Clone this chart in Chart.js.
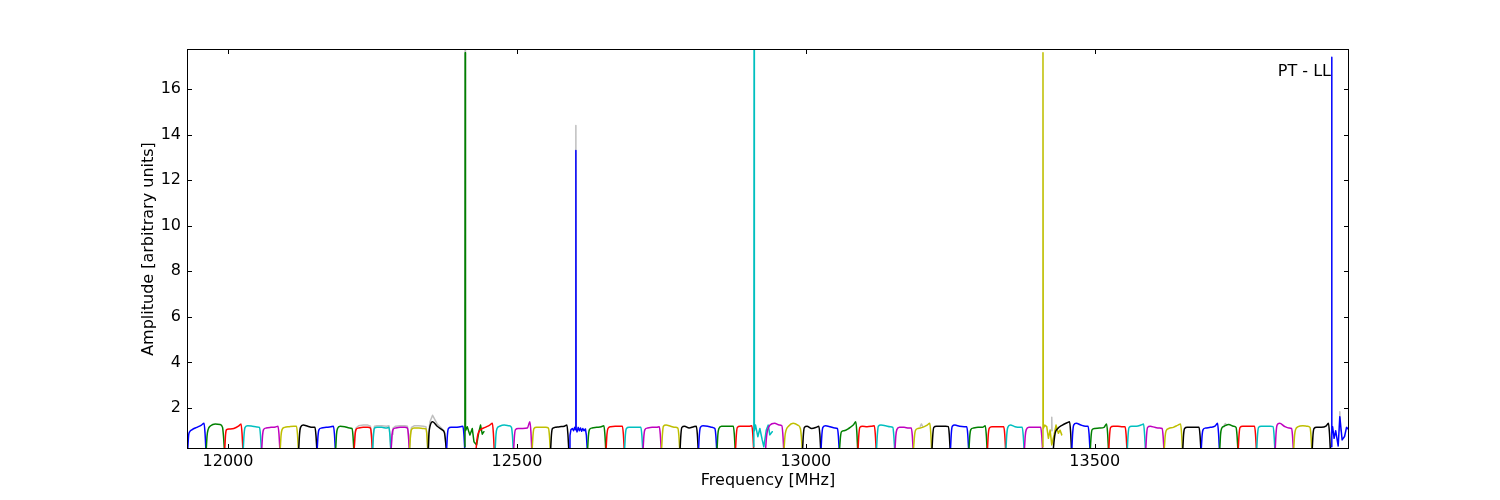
<!DOCTYPE html>
<html>
<head>
<meta charset="utf-8">
<script src="https://cdn.jsdelivr.net/npm/chart.js@4"></script>
<style>
  html, body { margin: 0; padding: 0; background: #fff; }
  #wrap { width: 1500px; height: 500px; }
</style>
</head>
<body>
<div id="wrap"><canvas id="chart" width="1500" height="500"></canvas></div>
<script>
// subband start frequencies [MHz], one line per subband
const subbandStart = [
  11930, 11962, 11994, 12026, 12058, 12090, 12122, 12154, 12186, 12218, 12250, 12282, 12314, 12346, 12378,
  12410, 12429,
  12462, 12494, 12526, 12558, 12590, 12622, 12654, 12686, 12718, 12750, 12782, 12814, 12846, 12878,
  12910, 12930,
  12962, 12994, 13026, 13058, 13090, 13122, 13154, 13186, 13218, 13250, 13282, 13314, 13346, 13378,
  13410, 13428,
  13460, 13492, 13524, 13556, 13588, 13620, 13652, 13684, 13716, 13748, 13780, 13812, 13844, 13876,
  13908
];

// matplotlib classic colour cycle b g r c m y k
const cycleColors = ['#0000ff', '#008000', '#ff0000', '#00bfbf', '#bf00bf', '#bfbf00', '#000000'];

// channel offsets inside a clean subband [MHz]
const channelOffset = [0.4, 1.8, 3.5, 8, 16, 24, 28.5, 30.2, 31.6];

// channel offsets for the subbands hit by RFI
const rfiOffset = {
  15: [0, 0.4, 0.9, 4, 8.6, 12.7, 15.6, 20.2, 24.2, 27, 30, 32.9],
  21: [0.4, 1.8, 3.5, 6, 8, 10, 11.6, 12, 12.4, 14, 16, 18, 20, 22, 24, 26, 28.5, 30.2, 31.6],
  31: [0, 0.4, 0.9, 2.9, 6.9, 10.4, 14.5, 17.3, 21.5, 24.9, 27.7, 31.8],
  47: [0, 0.4, 0.9, 3.5, 6.9, 9.8, 12.7, 15.6, 19.6, 23, 27, 29.9, 32.9],
  63: [1.5, 2, 2.5, 3.6, 6.2, 9, 13.3, 16.1, 20.1, 24.3, 27.7, 31.8]
};

// amplitudes per subband
const subbandAmp = [
  [0.22, 0.8, 0.95, 1.05, 1.15, 1.25, 1.33, 0.9, 0.22],
  [0.22, 0.8, 1.05, 1.22, 1.3, 1.28, 1.15, 0.75, 0.22],
  [0.22, 0.85, 1.05, 1.08, 1.1, 1.2, 1.3, 0.9, 0.22],
  [0.22, 0.85, 1.15, 1.22, 1.2, 1.17, 1.15, 0.8, 0.22],
  [0.22, 0.8, 1.05, 1.12, 1.15, 1.17, 1.2, 0.85, 0.22],
  [0.22, 0.8, 1.05, 1.15, 1.18, 1.2, 1.2, 0.85, 0.22],
  [0.22, 0.85, 1.15, 1.25, 1.2, 1.15, 1.15, 0.8, 0.22],
  [0.22, 0.8, 1.05, 1.12, 1.15, 1.18, 1.2, 0.85, 0.22],
  [0.22, 0.85, 1.1, 1.2, 1.18, 1.12, 1.1, 0.8, 0.22],
  [0.22, 0.8, 1.05, 1.12, 1.15, 1.15, 1.12, 0.8, 0.22],
  [0.22, 0.85, 1.12, 1.15, 1.15, 1.12, 1.15, 0.8, 0.22],
  [0.22, 0.8, 1.05, 1.12, 1.15, 1.15, 1.12, 0.8, 0.22],
  [0.22, 0.8, 1.05, 1.12, 1.12, 1.1, 1.08, 0.8, 0.22],
  [0.22, 0.9, 1.2, 1.4, 1.2, 1.05, 0.92, 0.6, 0.22],
  [0.22, 0.85, 1.1, 1.15, 1.15, 1.18, 1.2, 0.85, 0.22],
  [0.3, 17.6, 1.0, 1.18, 0.81, 1.1, 0.52, 0.38, 0.96, 1.25, 0.85, 0.96],
  [0.22, 0.6, 0.85, 1.05, 1.15, 1.25, 1.33, 0.9, 0.22],
  [0.22, 0.85, 1.1, 1.2, 1.25, 1.22, 1.15, 0.8, 0.22],
  [0.22, 0.8, 1.05, 1.1, 1.1, 1.12, 1.4, 0.95, 0.22],
  [0.22, 0.8, 1.1, 1.15, 1.15, 1.15, 1.12, 0.8, 0.22],
  [0.22, 0.85, 1.1, 1.15, 1.18, 1.2, 1.25, 0.85, 0.22],
  [0.22, 0.8, 1.05, 1.1, 1.0, 1.15, 1.05, 13.3, 1.1, 0.95, 1.15, 1.0, 1.12, 0.98, 1.1, 1.0, 1.08, 0.8, 0.22],
  [0.22, 0.8, 1.05, 1.12, 1.15, 1.18, 1.22, 0.85, 0.22],
  [0.22, 0.85, 1.1, 1.18, 1.2, 1.2, 1.2, 0.85, 0.22],
  [0.22, 0.85, 1.1, 1.15, 1.15, 1.15, 1.15, 0.8, 0.22],
  [0.22, 0.8, 1.05, 1.12, 1.15, 1.15, 1.18, 0.8, 0.22],
  [0.22, 0.85, 1.2, 1.25, 1.2, 1.15, 1.12, 0.8, 0.22],
  [0.22, 0.85, 1.15, 1.2, 1.12, 1.18, 1.2, 0.85, 0.22],
  [0.22, 0.85, 1.15, 1.22, 1.2, 1.15, 1.1, 0.8, 0.22],
  [0.22, 0.85, 1.1, 1.2, 1.2, 1.2, 1.2, 0.85, 0.22],
  [0.22, 0.85, 1.15, 1.2, 1.2, 1.2, 1.22, 0.85, 0.22],
  [0.3, 17.76, 1.0, 1.25, 0.74, 1.1, 0.6, 0.3, 1.03, 1.25, 0.82, 0.96],
  [0.22, 0.7, 1.0, 1.25, 1.33, 1.25, 1.22, 0.85, 0.22],
  [0.22, 0.75, 1.0, 1.2, 1.33, 1.25, 1.1, 0.75, 0.22],
  [0.22, 0.85, 1.15, 1.2, 1.1, 1.15, 1.2, 0.85, 0.22],
  [0.22, 0.85, 1.15, 1.22, 1.18, 1.12, 1.1, 0.8, 0.22],
  [0.22, 0.7, 0.95, 1.0, 1.1, 1.25, 1.4, 0.95, 0.22],
  [0.22, 0.85, 1.15, 1.2, 1.18, 1.2, 1.22, 0.85, 0.22],
  [0.22, 0.85, 1.2, 1.25, 1.22, 1.18, 1.15, 0.8, 0.22],
  [0.22, 0.8, 1.05, 1.15, 1.15, 1.12, 1.12, 0.8, 0.22],
  [0.22, 0.7, 1.0, 1.1, 1.15, 1.25, 1.33, 0.9, 0.22],
  [0.22, 0.85, 1.15, 1.2, 1.2, 1.2, 1.18, 0.85, 0.22],
  [0.22, 0.9, 1.2, 1.25, 1.2, 1.18, 1.18, 0.85, 0.22],
  [0.22, 0.8, 1.05, 1.12, 1.15, 1.15, 1.22, 0.85, 0.22],
  [0.22, 0.85, 1.12, 1.18, 1.18, 1.18, 1.18, 0.85, 0.22],
  [0.22, 0.85, 1.15, 1.25, 1.18, 1.15, 1.15, 0.8, 0.22],
  [0.22, 0.8, 1.05, 1.15, 1.15, 1.15, 1.15, 0.8, 0.22],
  [0.3, 17.6, 1.1, 1.25, 1.18, 0.67, 1.03, 0.38, 0.82, 1.25, 0.89, 1.03, 0.82],
  [0.22, 0.6, 0.9, 1.1, 1.25, 1.35, 1.4, 0.95, 0.22],
  [0.22, 0.9, 1.25, 1.33, 1.25, 1.2, 1.2, 0.85, 0.22],
  [0.22, 0.8, 1.05, 1.1, 1.12, 1.15, 1.3, 0.9, 0.22],
  [0.22, 0.85, 1.15, 1.2, 1.2, 1.18, 1.18, 0.85, 0.22],
  [0.22, 0.85, 1.15, 1.2, 1.2, 1.25, 1.3, 0.85, 0.22],
  [0.22, 0.85, 1.15, 1.2, 1.15, 1.12, 1.1, 0.8, 0.22],
  [0.22, 0.75, 1.0, 1.1, 1.15, 1.25, 1.3, 0.9, 0.22],
  [0.22, 0.85, 1.1, 1.15, 1.15, 1.15, 1.15, 0.8, 0.22],
  [0.22, 0.8, 1.05, 1.12, 1.15, 1.2, 1.33, 0.9, 0.22],
  [0.22, 0.85, 1.1, 1.2, 1.28, 1.2, 1.15, 0.8, 0.22],
  [0.22, 0.85, 1.15, 1.2, 1.2, 1.2, 1.2, 0.85, 0.22],
  [0.22, 0.85, 1.15, 1.2, 1.2, 1.2, 1.18, 0.85, 0.22],
  [0.22, 0.9, 1.25, 1.33, 1.2, 1.12, 1.1, 0.8, 0.22],
  [0.22, 0.8, 1.05, 1.18, 1.22, 1.2, 1.15, 0.8, 0.22],
  [0.22, 0.85, 1.1, 1.15, 1.15, 1.2, 1.33, 0.9, 0.22],
  [0.3, 17.4, 1.0, 1.18, 0.67, 1.0, 0.33, 1.62, 0.6, 0.75, 1.15, 1.05]
];

// reference (grey) bandpass where it shows above the coloured one
const grayBandAmp = {
  9:  [0.22, 0.85, 1.12, 1.22, 1.25, 1.25, 1.2, 0.85, 0.22],
  10: [0.22, 0.9, 1.2, 1.22, 1.22, 1.2, 1.22, 0.85, 0.22],
  11: [0.22, 0.85, 1.12, 1.2, 1.22, 1.22, 1.2, 0.85, 0.22],
  12: [0.22, 0.85, 1.15, 1.22, 1.22, 1.2, 1.18, 0.85, 0.22],
  13: [0.22, 1.0, 1.4, 1.68, 1.3, 1.1, 0.95, 0.62, 0.22]
};
const grayPeakFreq = [12410, 12410.4, 12410.9, null, 12601.6, 12602, 12602.4, null, 13198, 13200, 13202, null,
  13425, 13425.6, 13426.2, null, 13724, 13726, 13728, null, 13923.5, 13924.1, 13924.7];
const grayPeakAmp = [0.3, 17.76, 1.0, null, 1.05, 14.4, 1.1, null, 1.2, 1.3, 1.2, null,
  1.0, 1.59, 1.0, null, 1.25, 1.32, 1.25, null, 1.2, 1.84, 1.0];

const xTickValues = [12000, 12500, 13000, 13500];
const yTickValues = [2, 4, 6, 8, 10, 12, 14, 16];
const cornerLabel = 'PT - LL';

const font = { family: '"DejaVu Sans"', size: 16 };

// datasets: grey reference first (drawn underneath), then one line per subband
const datasets = [];
Object.keys(grayBandAmp).forEach((k) => {
  const start = subbandStart[k];
  datasets.push({
    data: grayBandAmp[k].map((a, j) => ({ x: start + channelOffset[j], y: a })),
    borderColor: '#bfbfbf',
    borderWidth: 1.5,
    order: 1,
  });
});
datasets.push({
  data: grayPeakFreq.map((f, j) => ({ x: f, y: grayPeakAmp[j] })),
  borderColor: '#bfbfbf',
  borderWidth: 1.5,
  spanGaps: false,
  cubicInterpolationMode: 'default',
  order: 1,
});
subbandStart.forEach((start, i) => {
  const rfi = rfiOffset[i];
  const offs = rfi || channelOffset;
  datasets.push({
    data: subbandAmp[i].map((a, j) => ({ x: start + offs[j], y: a })),
    borderColor: cycleColors[i % 7],
    borderWidth: 1.5,
    cubicInterpolationMode: rfi ? 'default' : 'monotone',
    order: -i,
  });
});

// frame, inward ticks and corner label, matplotlib style
const framePlugin = {
  id: 'frame',
  afterDraw(chart) {
    const { ctx, chartArea: a, scales: { x, y } } = chart;
    ctx.save();
    ctx.strokeStyle = '#000';
    ctx.lineWidth = 1;
    ctx.strokeRect(a.left + 0.5, a.top + 0.5, a.right - a.left - 1, a.bottom - a.top - 1);
    ctx.beginPath();
    x.ticks.forEach((t) => {
      const px = Math.round(x.getPixelForValue(t.value)) + 0.5;
      ctx.moveTo(px, a.bottom); ctx.lineTo(px, a.bottom - 5);
      ctx.moveTo(px, a.top); ctx.lineTo(px, a.top + 5);
    });
    y.ticks.forEach((t) => {
      const py = Math.round(y.getPixelForValue(t.value)) + 0.5;
      ctx.moveTo(a.left, py); ctx.lineTo(a.left + 5, py);
      ctx.moveTo(a.right, py); ctx.lineTo(a.right - 5, py);
    });
    ctx.stroke();
    ctx.fillStyle = '#000';
    ctx.font = '16px "DejaVu Sans"';
    ctx.textAlign = 'right';
    ctx.textBaseline = 'alphabetic';
    ctx.fillText(cornerLabel, a.right - 18, a.top + 27);
    ctx.restore();
  }
};

new Chart(document.getElementById('chart').getContext('2d'), {
  type: 'line',
  data: { datasets },
  plugins: [framePlugin],
  options: {
    responsive: false,
    animation: false,
    layout: { padding: { left: 138, top: 49, right: 151, bottom: 0 } },
    elements: {
      point: { radius: 0 },
      line: { tension: 0, borderJoinStyle: 'round', borderCapStyle: 'round' },
    },
    plugins: { legend: { display: false }, tooltip: { enabled: false } },
    scales: {
      x: {
        type: 'linear',
        min: 11929,
        max: 13940,
        grid: { display: false, drawTicks: false },
        border: { display: false },
        afterBuildTicks: (s) => { s.ticks = xTickValues.map((v) => ({ value: v })); },
        afterFit: (s) => { s.height = 51; },
        ticks: { padding: 3, color: '#000', font, maxRotation: 0, autoSkip: false, callback: (v) => String(v) },
        title: { display: true, text: 'Frequency [MHz]', color: '#000', font, padding: { top: 0, bottom: 10 } },
      },
      y: {
        type: 'linear',
        min: 0.2,
        max: 17.76,
        grid: { display: false, drawTicks: false },
        border: { display: false },
        afterBuildTicks: (s) => { s.ticks = yTickValues.map((v) => ({ value: v })); },
        afterFit: (s) => { s.width = 49; },
        ticks: { padding: 6, color: '#000', font, autoSkip: false, callback: (v) => String(v) },
        title: { display: true, text: 'Amplitude [arbitrary units]', color: '#000', font, padding: { top: 1, bottom: 0 } },
      },
    },
  },
});
</script>
</body>
</html>
